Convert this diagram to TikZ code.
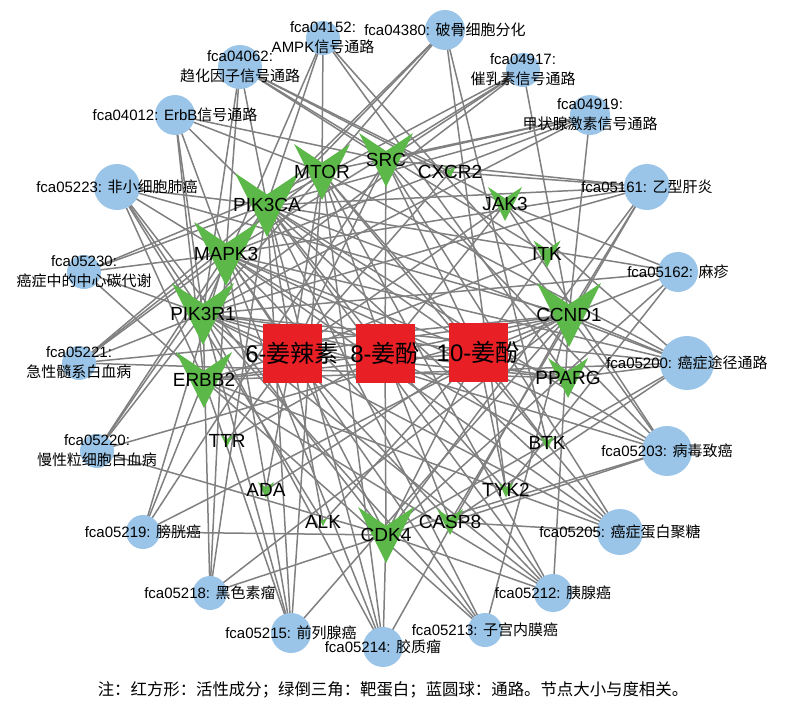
\documentclass[tikz,border=0pt]{standalone}
\usepackage{fontspec}
\setmainfont{Liberation Sans}
\newfontfamily\cjk{Noto Sans CJK SC}
\usepackage{xcolor}
\usepackage{tikz}
\usetikzlibrary{backgrounds}
\definecolor{pathblue}{RGB}{155,197,232}
\definecolor{targetgreen}{RGB}{92,184,72}
\definecolor{compred}{RGB}{232,32,38}
\definecolor{edgegray}{RGB}{128,128,128}

\begin{document}
\begin{tikzpicture}[x=1pt,y=-1pt,
				pathway/.style={circle,fill=pathblue,minimum size=#1pt,inner sep=0pt},
				target/.style={rectangle,minimum size=#1pt,inner sep=0pt,
					path picture={\fill[targetgreen] (path picture bounding box.north west)
						-- ([yshift=#1pt/6]path picture bounding box.center)
						-- (path picture bounding box.north east)
						-- (path picture bounding box.south) -- cycle;}},
				compound/.style={rectangle,fill=compred,minimum size=59pt,inner sep=0pt},
				plabel/.style={font=\fontsize{15}{20}\selectfont,align=center,inner sep=0pt},
				tlabel/.style={font=\fontsize{19}{19}\selectfont,inner sep=0pt},
				clabel/.style={font=\fontsize{24}{24}\selectfont,inner sep=0pt},
				link/.style={draw=edgegray,line width=1.5pt},
				]
				\path[use as bounding box] (0,0) rectangle (788,707);
				
				% Pathways
				\node[pathway=34,label={[plabel]center:{fca04152:\\AMPK{\cjk 信号通路}}}] (p04152) at (323,38) {};
				\node[pathway=40,label={[plabel]center:{fca04380: {\cjk 破骨细胞分化}}}] (p04380) at (445,30) {};
				\node[pathway=44,label={[plabel]center:{fca04062:\\{\cjk 趋化因子信号通路}}}] (p04062) at (240,67) {};
				\node[pathway=34,label={[plabel]center:{fca04917:\\{\cjk 催乳素信号通路}}}] (p04917) at (523,70) {};
				\node[pathway=40,label={[plabel]center:{fca04919:\\{\cjk 甲状腺激素信号通路}}}] (p04919) at (590,115) {};
				\node[pathway=40,label={[plabel]center:{fca04012: ErbB{\cjk 信号通路}}}] (p04012) at (175,115) {};
				\node[pathway=46,label={[plabel]center:{fca05223: {\cjk 非小细胞肺癌}}}] (p05223) at (117,187) {};
				\node[pathway=46,label={[plabel]center:{fca05161: {\cjk 乙型肝炎}}}] (p05161) at (647,187) {};
				\node[pathway=34,label={[plabel]center:{fca05230:\\{\cjk 癌症中的中心碳代谢}}}] (p05230) at (84,272) {};
				\node[pathway=40,label={[plabel]center:{fca05162: {\cjk 麻疹}}}] (p05162) at (678,272) {};
				\node[pathway=34,label={[plabel]center:{fca05221:\\{\cjk 急性髓系白血病}}}] (p05221) at (79,363) {};
				\node[pathway=54,label={[plabel]center:{fca05200: {\cjk 癌症途径通路}}}] (p05200) at (687,363) {};
				\node[pathway=34,label={[plabel]center:{fca05220:\\{\cjk 慢性粒细胞白血病}}}] (p05220) at (97,451) {};
				\node[pathway=50,label={[plabel]center:{fca05203: {\cjk 病毒致癌}}}] (p05203) at (667,451) {};
				\node[pathway=34,label={[plabel]center:{fca05219: {\cjk 膀胱癌}}}] (p05219) at (143,532) {};
				\node[pathway=46,label={[plabel]center:{fca05205: {\cjk 癌症蛋白聚糖}}}] (p05205) at (620,532) {};
				\node[pathway=34,label={[plabel]center:{fca05218: {\cjk 黑色素瘤}}}] (p05218) at (210,593) {};
				\node[pathway=38,label={[plabel]center:{fca05212: {\cjk 胰腺癌}}}] (p05212) at (553,593) {};
				\node[pathway=40,label={[plabel]center:{fca05215: {\cjk 前列腺癌}}}] (p05215) at (291,633) {};
				\node[pathway=34,label={[plabel]center:{fca05213: {\cjk 子宫内膜癌}}}] (p05213) at (485,630) {};
				\node[pathway=40,label={[plabel]center:{fca05214: {\cjk 胶质瘤}}}] (p05214) at (383,647) {};
				
				% Targets
				\node[target=64,label={[tlabel]center:PIK3CA}] (pik3ca) at (267,205) {};
				\node[target=56,label={[tlabel]center:MTOR}] (mtor) at (322,172) {};
				\node[target=54,label={[tlabel]center:SRC}] (src) at (386,160) {};
				\node[target=12,label={[tlabel]center:CXCR2}] (cxcr2) at (450,172) {};
				\node[target=34,label={[tlabel]center:JAK3}] (jak3) at (505,204) {};
				\node[target=27,label={[tlabel]center:ITK}] (itk) at (547,254) {};
				\node[target=64,label={[tlabel]center:MAPK3}] (mapk3) at (226,254) {};
				\node[target=62,label={[tlabel]center:PIK3R1}] (pik3r1) at (203,314) {};
				\node[target=64,label={[tlabel]center:CCND1}] (ccnd1) at (569,315) {};
				\node[target=56,label={[tlabel]center:ERBB2}] (erbb2) at (204,380) {};
				\node[target=40,label={[tlabel]center:PPARG}] (pparg) at (568,378) {};
				\node[target=12,label={[tlabel]center:TTR}] (ttr) at (227,441) {};
				\node[target=14,label={[tlabel]center:BTK}] (btk) at (547,443) {};
				\node[target=16,label={[tlabel]center:ADA}] (ada) at (266,490) {};
				\node[target=15,label={[tlabel]center:TYK2}] (tyk2) at (506,490) {};
				\node[target=8,label={[tlabel]center:ALK}] (alk) at (323,522) {};
				\node[target=56,label={[tlabel]center:CDK4}] (cdk4) at (386,535) {};
				\node[target=26,label={[tlabel]center:CASP8}] (casp8) at (450,522) {};
				
				% Compounds
				\node[compound,label={[clabel]center:{6-{\cjk 姜辣素}}}] (c6) at (292,353) {};
				\node[compound,label={[clabel]center:{8-{\cjk 姜酚}}}] (c8) at (385,353) {};
				\node[compound,label={[clabel]center:{10-{\cjk 姜酚}}}] (c10) at (478,352) {};
				
				% Edges
				\begin{pgfonlayer}{background}
					\fill[white] (0,0) rectangle (788,707);
					\foreach \cmp/\tl in {
						c6/{pik3ca,mtor,src,mapk3,pik3r1,erbb2,ccnd1,pparg,cdk4,jak3,ttr,ada,casp8,cxcr2,alk,itk},
						c8/{pik3ca,mtor,src,mapk3,pik3r1,erbb2,ccnd1,pparg,cdk4,btk,tyk2,casp8,jak3,ttr},
						c10/{pik3ca,mtor,src,mapk3,pik3r1,erbb2,ccnd1,pparg,cdk4,itk,btk,tyk2,ada,alk}}
					\foreach \t in \tl \draw[link] (\cmp.center) -- (\t.center);
					\foreach \p/\tl in {
						p04152/{pik3ca,pik3r1,mtor,ccnd1,pparg},
						p04380/{pik3ca,pik3r1,mapk3,btk,tyk2},
						p04062/{pik3ca,pik3r1,mapk3,src,cxcr2,jak3,itk},
						p04917/{pik3ca,pik3r1,mapk3,src,ccnd1},
						p04919/{pik3ca,pik3r1,mapk3,mtor,src,ccnd1},
						p04012/{pik3ca,pik3r1,mapk3,mtor,src,erbb2},
						p05223/{pik3ca,pik3r1,mapk3,ccnd1,cdk4,erbb2,alk},
						p05161/{pik3ca,pik3r1,mapk3,src,ccnd1,cdk4,casp8,cxcr2},
						p05230/{pik3ca,pik3r1,mapk3,mtor,erbb2},
						p05162/{pik3ca,pik3r1,ccnd1,cdk4,jak3,tyk2},
						p05221/{pik3ca,pik3r1,mapk3,mtor,ccnd1,pparg},
						p05200/{pik3ca,pik3r1,mapk3,mtor,ccnd1,cdk4,erbb2,pparg,casp8,jak3},
						p05220/{pik3ca,pik3r1,mapk3,ccnd1,cdk4},
						p05203/{pik3ca,pik3r1,mapk3,src,ccnd1,cdk4,jak3,casp8},
						p05219/{mapk3,src,ccnd1,cdk4,erbb2},
						p05205/{pik3ca,pik3r1,mapk3,mtor,src,erbb2,casp8},
						p05218/{pik3ca,pik3r1,mapk3,ccnd1,cdk4},
						p05212/{pik3ca,pik3r1,mapk3,mtor,ccnd1,cdk4,erbb2},
						p05215/{pik3ca,pik3r1,mapk3,mtor,ccnd1,erbb2},
						p05213/{pik3ca,pik3r1,mapk3,ccnd1,erbb2},
						p05214/{pik3ca,pik3r1,mapk3,mtor,ccnd1,cdk4}}
					\foreach \t in \tl \draw[link] (\p.center) -- (\t.center);
				\end{pgfonlayer}
				
				% Note
				\node[font=\cjk\fontsize{16.4}{16.4}\selectfont] (note) at (393,690)
				{注：红方形：活性成分；绿倒三角：靶蛋白；蓝圆球：通路。节点大小与度相关。};
			\end{tikzpicture}
\end{document}
